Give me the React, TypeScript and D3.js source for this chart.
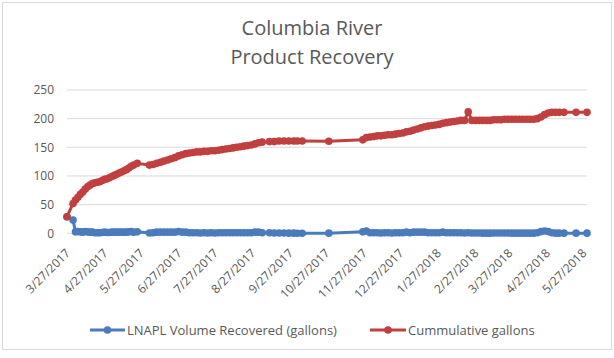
import React from "react";
import * as d3 from "d3";

// Field readings: date of each recovery event
const readingDates = [
  // spring 2017
  "3/27/2017", "4/1/2017", "4/3/2017", "4/5/2017", "4/7/2017", "4/9/2017", "4/11/2017",
  "4/13/2017", "4/15/2017", "4/17/2017", "4/19/2017", "4/21/2017", "4/23/2017", "4/25/2017",
  "4/27/2017", "4/29/2017", "5/1/2017", "5/3/2017", "5/5/2017", "5/7/2017", "5/9/2017",
  "5/11/2017", "5/13/2017", "5/15/2017", "5/17/2017", "5/19/2017", "5/21/2017", "5/24/2017",
  // summer 2017
  "6/3/2017", "6/6/2017", "6/9/2017", "6/12/2017", "6/15/2017", "6/18/2017", "6/21/2017",
  "6/24/2017", "6/27/2017", "6/30/2017", "7/3/2017", "7/6/2017", "7/9/2017", "7/12/2017",
  "7/15/2017", "7/18/2017", "7/21/2017", "7/24/2017", "7/27/2017", "7/30/2017", "8/2/2017",
  "8/5/2017", "8/8/2017", "8/11/2017", "8/14/2017", "8/17/2017", "8/20/2017", "8/23/2017",
  "8/26/2017", "8/29/2017", "9/1/2017", "9/4/2017",
  // fall 2017
  "9/10/2017", "9/14/2017", "9/18/2017", "9/22/2017", "9/26/2017", "9/30/2017", "10/3/2017",
  "10/7/2017", "10/29/2017",
  // winter / spring 2017-2018
  "11/26/2017", "11/29/2017", "12/2/2017", "12/5/2017", "12/8/2017", "12/11/2017", "12/14/2017",
  "12/17/2017", "12/20/2017", "12/23/2017", "12/26/2017", "12/29/2017",
  "1/1/2018", "1/4/2018", "1/7/2018", "1/10/2018", "1/13/2018", "1/16/2018", "1/19/2018",
  "1/22/2018", "1/25/2018", "1/28/2018", "1/31/2018",
  "2/3/2018", "2/6/2018", "2/9/2018", "2/12/2018", "2/15/2018", "2/18/2018", "2/21/2018",
  "2/24/2018", "2/27/2018",
  "3/2/2018", "3/5/2018", "3/8/2018", "3/11/2018", "3/14/2018", "3/17/2018", "3/20/2018",
  "3/23/2018", "3/26/2018", "3/29/2018",
  "4/1/2018", "4/4/2018", "4/7/2018", "4/10/2018", "4/13/2018", "4/16/2018", "4/19/2018",
  "4/22/2018", "4/25/2018", "4/28/2018",
  "5/1/2018", "5/4/2018", "5/7/2018", "5/11/2018", "5/21/2018", "5/30/2018",
];

// Gallons of LNAPL recovered at each event
const lnaplGallons = [
  29, 23, 2.5, 3, 2.5, 2, 3, 2.5, 2, 2, 1, 1, 1, 1.5, 2, 1.5, 1.5, 2, 2, 2, 2, 2, 2, 2, 2.5, 3, 2, 2.5,
  0.5, 1, 2, 2, 2, 2, 2, 2, 3, 2, 2, 1, 1, 1, 0.5, 1, 0.5, 1, 0.5, 1, 1, 1, 1, 1, 1, 1, 1, 1, 1, 2, 2, 1,
  1, 0.5, 0.5, 0.5, 0.3, 0.3, 0.2, 0.2, 0.3,
  2.5, 4, 1, 1, 1, 0.5, 1, 1, 0.5, 1, 1, 1,
  2, 1, 2, 2, 2, 2, 1, 1, 1, 1, 2,
  1, 1, 1, 1, 1, 0.5, 1, 0.5, 0.5,
  0.5, 0.3, 0.3, 0.3, 0.5, 0.5, 0.5, 0.5, 0.5, 0.3,
  0.3, 0.3, 0.3, 0.3, 0.3, 0.3, 1, 3, 4, 3,
  1, 0.3, 0.3, 0.3, 0.3, 0.3,
];

// Running total as logged
const cumulativeGallons = [
  29, 52, 58, 63, 68, 72, 77, 81, 84, 87, 88, 89, 90, 92, 94, 95, 97, 99, 101, 103, 105, 107, 109, 111,
  114, 117, 119, 122,
  119, 120, 122, 124, 126, 128, 130, 132, 135, 137, 139, 140, 141, 142, 142, 143, 143, 144, 144, 145,
  146, 147, 148, 149, 150, 151, 152, 153, 154, 156, 158, 159,
  160, 160, 161, 161, 161, 161, 161, 161, 160.5,
  163, 167, 168, 169, 170, 170, 171, 172, 172, 173, 174, 175,
  177, 178, 180, 182, 184, 186, 187, 188, 189, 190, 192,
  193, 194, 195, 196, 197, 197, 212, 197, 197,
  197, 197, 197, 197, 198, 198, 198, 199, 199, 199,
  199, 199, 199, 199, 199, 199, 200, 203, 207, 210,
  211, 211, 211, 211, 211, 211,
];

const tickDates = [
  "3/27/2017", "4/27/2017", "5/27/2017", "6/27/2017", "7/27/2017", "8/27/2017", "9/27/2017",
  "10/27/2017", "11/27/2017", "12/27/2017", "1/27/2018", "2/27/2018", "3/27/2018", "4/27/2018",
  "5/27/2018",
];
const yTicks = [0, 50, 100, 150, 200, 250];
const axisStart = "3/27/2017";
const axisEnd = "5/30/2018";

const titleLines = ["Columbia River", "Product Recovery"];
const seriesNames = ["LNAPL Volume Recovered (gallons)", "Cummulative gallons"];

const W = 614;
const H = 358;
const FONT = "'Open Sans', 'Noto Sans', sans-serif";
const TEXT = "#595959";
const GRID = "#d9d9d9";
const BLUE = "#4a7bbd";
const RED = "#c0403f";
const LINE_W = 3;
const MARK_R = 3.8;

const parseDate = d3.timeParse("%m/%d/%Y");

export default function App() {
  const x = d3
    .scaleTime()
    .domain([parseDate(axisStart)!, parseDate(axisEnd)!])
    .range([67, 587]);
  const y = d3.scaleLinear().domain([0, 250]).range([233.3, 90]);

  const points = readingDates.map((d, i) => ({
    date: parseDate(d)!,
    lnapl: lnaplGallons[i],
    cum: cumulativeGallons[i],
  }));

  const lnaplLine = d3
    .line<(typeof points)[number]>()
    .x((d) => x(d.date))
    .y((d) => y(d.lnapl));
  const cumLine = d3
    .line<(typeof points)[number]>()
    .x((d) => x(d.date))
    .y((d) => y(d.cum));

  const [x0, x1] = x.range();

  return (
    <div style={{ position: "absolute", left: 0, top: 0 }}>
      <svg width={W} height={H} style={{ display: "block", background: "#fff" }}>
        <rect x={2.5} y={2.5} width={W - 5} height={347} fill="#fff" stroke="#d9d9d9" />

        {/* title */}
        <text x={312} textAnchor="middle" fontFamily={FONT} fontSize={20} fill={TEXT}>
          {titleLines.map((t, i) => (
            <tspan key={t} x={312} y={35 + i * 29}>
              {t}
            </tspan>
          ))}
        </text>

        {/* gridlines and y labels */}
        {yTicks.map((v) => (
          <g key={v}>
            <line x1={x0} x2={x1} y1={y(v)} y2={y(v)} stroke={GRID} strokeWidth={1} />
            <text
              x={54}
              y={y(v)}
              dy="0.35em"
              textAnchor="end"
              fontFamily={FONT}
              fontSize={12}
              fill={TEXT}
            >
              {v}
            </text>
          </g>
        ))}

        {/* x labels, rotated */}
        {tickDates.map((t) => {
          const tx = x(parseDate(t)!);
          return (
            <text
              key={t}
              transform={`translate(${tx + 1},${251}) rotate(-45)`}
              dy="0.35em"
              textAnchor="end"
              fontFamily={FONT}
              fontSize={12}
              fill={TEXT}
            >
              {t}
            </text>
          );
        })}

        {/* LNAPL per event */}
        <path d={lnaplLine(points) ?? ""} fill="none" stroke={BLUE} strokeWidth={LINE_W} strokeLinejoin="round" />
        {points.map((p, i) => (
          <circle key={`b${i}`} cx={x(p.date)} cy={y(p.lnapl)} r={MARK_R} fill={BLUE} />
        ))}

        {/* cumulative */}
        <path d={cumLine(points) ?? ""} fill="none" stroke={RED} strokeWidth={LINE_W} strokeLinejoin="round" />
        {points.map((p, i) => (
          <circle key={`r${i}`} cx={x(p.date)} cy={y(p.cum)} r={MARK_R} fill={RED} />
        ))}

        {/* legend */}
        <g fontFamily={FONT} fontSize={13} fill={TEXT}>
          <line x1={90} x2={125} y1={330} y2={330} stroke={BLUE} strokeWidth={LINE_W} />
          <circle cx={107.5} cy={330} r={MARK_R} fill={BLUE} />
          <text x={127} y={330} dy="0.35em">
            {seriesNames[0]}
          </text>
          <line x1={370} x2={406} y1={330} y2={330} stroke={RED} strokeWidth={LINE_W} />
          <circle cx={388} cy={330} r={MARK_R} fill={RED} />
          <text x={408} y={330} dy="0.35em">
            {seriesNames[1]}
          </text>
        </g>
      </svg>
    </div>
  );
}
